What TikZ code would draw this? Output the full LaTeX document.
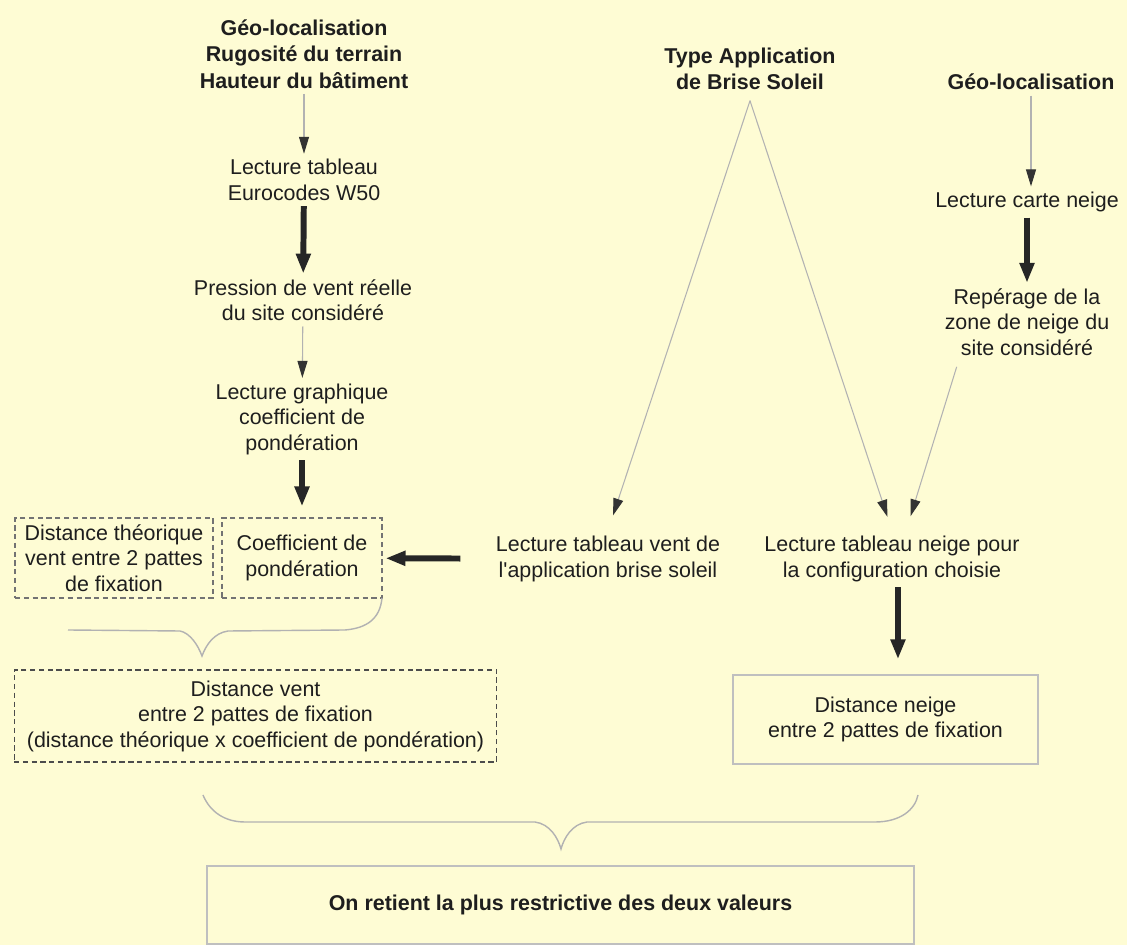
\documentclass[tikz,border=0pt]{standalone}
\usepackage{fontspec}
\setmainfont{Liberation Sans}
\usetikzlibrary{arrows.meta}
\definecolor{fond}{RGB}{254,252,212}
\definecolor{encre}{RGB}{30,30,30}
\begin{document}
\begin{tikzpicture}
      [x=0.02cm,y=-0.02cm,inner sep=3pt,
       every node/.style={font=\fontsize{12.2}{14.5}\selectfont,text=encre,align=center},
       titre/.style={font=\fontsize{12.2}{15}\selectfont\bfseries},
       cadre/.style={draw=black!55,densely dashed,line width=0.6pt,minimum height=1.6cm},
       resultat/.style={draw=black!25,line width=0.8pt},
       fin/.style={draw=black!30,line width=0.6pt,-{Triangle[length=0.34cm,width=0.2cm,color=black!80]}},
       gros/.style={draw=black!85,line width=3.4pt,-{Triangle[length=0.4cm,width=0.28cm]}},
       accolade/.style={draw=black!30,line width=0.8pt}]
      \useasboundingbox (0,0) rectangle (1127,945);
      \fill [fond] (0,0) rectangle (1127,945);
      \node at (304,54) (geo) [titre] {Géo-localisation\\Rugosité du terrain\\Hauteur du bâtiment};
      \node at (304,180) (tableau) {Lecture tableau\\Eurocodes W50};
      \node at (303,300) (pression) {Pression de vent réelle\\du site considéré};
      \node at (302,419) (graphique) {Lecture graphique\\coefficient de\\pondération};
      \node at (114,558) (theorique) [cadre,minimum width=3.96cm] {Distance théorique\\vent entre 2 pattes\\de fixation};
      \node at (302,558) (coef) [cadre,minimum width=3.2cm] {Coefficient de\\pondération};
      \node at (608,559) (tabvent) {Lecture tableau vent de\\l\textquotesingle application brise soleil};
      \node at (750,69) (type) [titre] {Type Application\\de Brise Soleil};
      \node at (1031,82) (geoneige) [titre] {Géo-localisation};
      \node at (1027,202) (carte) {Lecture carte neige};
      \node at (1027,322) (reperage) {Repérage de la\\zone de neige du\\site considéré};
      \node at (892,559) (tabneige) {Lecture tableau neige pour\\la configuration choisie};
      \node at (255.5,716) (ventdist) [cadre,draw=black!70,minimum width=9.66cm,minimum height=1.84cm] {Distance vent\\entre 2 pattes de fixation\\(distance théorique x coefficient de pondération)};
      \node at (885.5,719.5) (neigedist) [resultat,minimum width=6.1cm,minimum height=1.78cm] {Distance neige\\entre 2 pattes de fixation};
      \node at (560.5,905) (retenue) [resultat,titre,minimum width=14.14cm,minimum height=1.56cm] {On retient la plus restrictive des deux valeurs};
      \foreach \a/\b in {geo/tableau,pression/graphique}
         \draw [fin] (\a) -- (\b);
      \draw [fin] (geoneige) -- (geoneige |- carte.north);
      \foreach \a/\b in {tableau/pression,carte/reperage}
         \draw [gros] (\a) -- (\b);
      \draw [gros,shorten >=0.22cm] (graphique) -- (coef);
      \draw [gros,shorten <=0.6cm,shorten >=0.06cm] (tabvent) -- (coef);
      \draw [fin,shorten >=0.32cm] ([yshift=-0.1cm]type.south) -- (tabvent.north);
      \draw [fin,shorten >=0.29cm] ([yshift=-0.1cm]type.south) -- (tabneige.north);
      \draw [fin,shorten <=0.12cm,shorten >=0.3cm] ([xshift=11pt]reperage.south west) -- ([xshift=8pt]tabneige.north);
      \draw [gros,shorten >=0.3cm] ([xshift=3.4pt]tabneige.south) -- ([xshift=3.4pt]tabneige.south |- neigedist.north);
      \draw [accolade] (68,630) -- (180,631) .. controls (190,633) and (198,645) .. (202,656) .. controls (206,645) and (214,633) .. (228,631) -- (345,630) .. controls (368,628) and (380,618) .. (382,598);
      \draw [accolade] (203,795) .. controls (210,812) and (225,822) .. (245,822) -- (535,822) .. controls (550,824) and (558,838) .. (561,849) .. controls (564,838) and (572,824) .. (587,822) -- (875,822) .. controls (900,822) and (915,810) .. (918,795);
    \end{tikzpicture}
\end{document}
